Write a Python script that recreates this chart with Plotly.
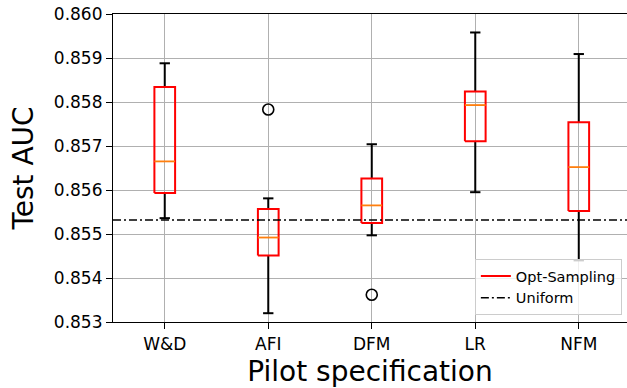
import plotly.graph_objects as go

categories = ["W&D", "AFI", "DFM", "LR", "NFM"]
whisker_low = [0.85536, 0.85320, 0.85497, 0.85595, 0.85440]
q1 = [0.85593, 0.85451, 0.85525, 0.85711, 0.85552]
median = [0.85665, 0.85492, 0.85565, 0.85793, 0.85652]
q3 = [0.85834, 0.85557, 0.85626, 0.85824, 0.85754]
whisker_high = [0.85888, 0.85581, 0.85704, 0.85958, 0.85909]
outliers = [[], [0.85783], [0.85362], [], []]
uniform_auc = 0.85532

y_ticks = [0.853, 0.854, 0.855, 0.856, 0.857, 0.858, 0.859, 0.860]

positions = list(range(1, len(categories) + 1))
BW = 0.1   # box half width (data units)
CW = 0.05  # cap half width
x_range = [0.5, 5.466]

FONT = "DejaVu Sans"

fig = go.Figure()

# whiskers + caps (black)
wx, wy = [], []
for p, lo, a, b, hi in zip(positions, whisker_low, q1, q3, whisker_high):
    wx += [p, p, None, p, p, None, p - CW, p + CW, None, p - CW, p + CW, None]
    wy += [lo, a, None, b, hi, None, lo, lo, None, hi, hi, None]
fig.add_trace(go.Scatter(x=wx, y=wy, mode="lines", line=dict(color="black", width=2),
                         showlegend=False, hoverinfo="skip"))

# boxes (red)
bx, by = [], []
for p, a, b in zip(positions, q1, q3):
    bx += [p - BW, p + BW, p + BW, p - BW, p - BW, None]
    by += [a, a, b, b, a, None]
fig.add_trace(go.Scatter(x=bx, y=by, mode="lines", line=dict(color="#ff0000", width=2),
                         name="Opt-Sampling", showlegend=True, hoverinfo="skip"))

# medians (orange)
mx, my = [], []
for p, m in zip(positions, median):
    mx += [p - BW, p + BW, None]
    my += [m, m, None]
fig.add_trace(go.Scatter(x=mx, y=my, mode="lines", line=dict(color="#ff7f0e", width=1.8),
                         showlegend=False, hoverinfo="skip"))

# outliers
ox, oy = [], []
for p, outs in zip(positions, outliers):
    for o in outs:
        ox.append(p)
        oy.append(o)
fig.add_trace(go.Scatter(x=ox, y=oy, mode="markers",
                         marker=dict(symbol="circle-open", size=11, color="black",
                                     line=dict(width=1.6, color="black")),
                         showlegend=False, hoverinfo="skip"))

# uniform baseline
fig.add_trace(go.Scatter(x=[x_range[0], 5.5], y=[uniform_auc, uniform_auc], mode="lines",
                         line=dict(color="black", width=1.5, dash="8px,3px,2px,3px"),
                         name="Uniform", hoverinfo="skip"))

fig.update_layout(
    width=627, height=388,
    margin=dict(l=113, r=0, t=14, b=66),
    paper_bgcolor="white", plot_bgcolor="white",
    font=dict(family=FONT, color="black", size=17),
    legend=dict(x=0.99, y=0.0227, xanchor="right", yanchor="bottom",
                bgcolor="rgba(255,255,255,0.8)", bordercolor="#cccccc", borderwidth=1,
                font=dict(size=14.5, family=FONT), tracegroupgap=0),
    xaxis=dict(range=x_range, tickmode="array", tickvals=positions, ticktext=categories,
               showgrid=True, gridcolor="#b0b0b0", gridwidth=1.1,
               showline=True, linecolor="black", linewidth=1.2, mirror=True,
               ticks="outside", ticklen=6, tickwidth=1.2, tickcolor="black",
               tickfont=dict(size=17),
               title=dict(text="Pilot specification", font=dict(size=28), standoff=11),
               zeroline=False),
    yaxis=dict(range=[0.853, 0.860], tickmode="array", tickvals=y_ticks,
               ticktext=[f"{v:.3f}" for v in y_ticks],
               showgrid=True, gridcolor="#b0b0b0", gridwidth=1.1,
               showline=True, linecolor="black", linewidth=1.2, mirror=False,
               ticks="outside", ticklen=6, tickwidth=1.2, tickcolor="black",
               tickfont=dict(size=17),
               title=dict(text="Test AUC", font=dict(size=28), standoff=12),
               zeroline=False),
)

fig.write_html("out.html")
